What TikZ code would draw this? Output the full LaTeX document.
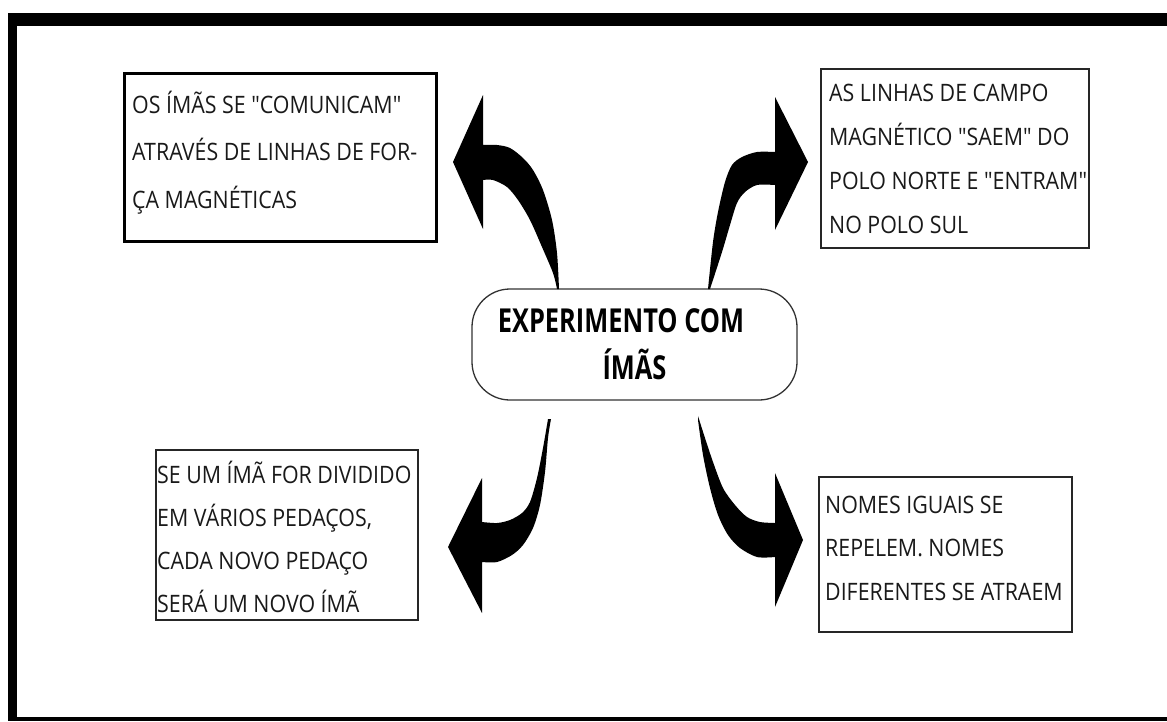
\documentclass[tikz,border=0pt]{standalone}
\usepackage{fontspec}
\newfontfamily\bodyfont{Open Sans}[FakeStretch=0.89]
\newfontfamily\titlefont{Open Sans}[FakeStretch=0.77]
\usetikzlibrary{fit}
\begin{document}
\begin{tikzpicture}[x=1pt,y=-1pt,
  framefill/.style={fill=black},
  infobox/.style={draw=black!85, line width=1.3pt, inner sep=0pt},
  thickbox/.style={draw=black, line width=3pt, inner sep=0pt},
  infotext/.style={anchor=base west, align=left, inner sep=0pt, text=black!90},
  hubnode/.style={draw=black!80, line width=1.3pt, rounded corners=38pt,
    minimum width=325pt, minimum height=111pt, inner sep=0pt, align=center,
    font=\titlefont\bfseries\fontsize{33}{47}\selectfont},
  blockarrow/.style={fill=black}]
\useasboundingbox (0,0) rectangle (1167,721);
\fill[white] (0,0) rectangle (1167,721);
% frame
\fill[framefill] (8,13) rectangle (1167,26);
\fill[framefill] (8,13) rectangle (17,721);
\fill[framefill] (8,717) rectangle (1167,721);

% central node
\node[hubnode] (hub) at (634.5,344.5) {EXPERIMENTO COM\hspace*{27pt}\\ÍMÃS};

% boxes
\node[thickbox, fit={(124,73) (436,241.5)}] (b1) {};
\node[infobox, fit={(821,69) (1089,248)}] (b2) {};
\node[infobox, fit={(156,450) (418,620)}] (b3) {};
\node[infobox, fit={(819,477) (1072,632)}] (b4) {};

% texts (base = baseline of the last line)
\node[infotext, font=\bodyfont\fontsize{24}{47.5}\selectfont] (t1) at (132,208)
  {OS ÍMÃS SE "COMUNICAM"\\ATRAVÉS DE LINHAS DE FOR-\\ÇA MAGNÉTICAS};
\node[infotext, font=\bodyfont\fontsize{24}{44}\selectfont] (t2) at (829,233)
  {AS LINHAS DE CAMPO\\MAGNÉTICO "SAEM" DO\\POLO NORTE E "ENTRAM"\\NO POLO SUL};
\node[infotext, font=\bodyfont\fontsize{24}{43}\selectfont] (t3) at (157,612)
  {SE UM ÍMÃ FOR DIVIDIDO\\EM VÁRIOS PEDAÇOS,\\CADA NOVO PEDAÇO\\SERÁ UM NOVO ÍMÃ};
\node[infotext, font=\bodyfont\fontsize{24}{43.5}\selectfont] (t4) at (825,600)
  {NOMES IGUAIS SE\\REPELEM. NOMES\\DIFERENTES SE ATRAEM};

% curved block arrows
\fill[blockarrow] plot[smooth] coordinates {(557,289) (553,273) (542,247) (530,220) (518,200) (507,187) (493,180) (483,180)}
  -- (483,229) -- (453,162) -- (483,95) -- (483,145)
  -- plot[smooth] coordinates {(483,145) (497,145) (510,148) (523,158) (533,170) (543,190) (552,220) (557,253) (559,289)} -- cycle;

\fill[blockarrow] plot[smooth] coordinates {(710,289) (722,252) (730,225) (737,203) (745,192) (757,185) (775,185)}
  -- (775,230) -- (808,162) -- (775,97) -- (775,152)
  -- plot[smooth] coordinates {(775,152) (757,152) (742,157) (732,165) (725,182) (718,212) (713,242) (708,289)} -- cycle;

\fill[blockarrow] plot[smooth] coordinates {(548,419) (543,448) (537,478) (530,502) (522,513) (510,520) (497,523) (482,522)}
  -- (482,478) -- (448,547) -- (482,613) -- (482,562)
  -- plot[smooth] coordinates {(482,562) (497,562) (512,555) (523,545) (533,528) (540,505) (545,472) (548,438) (551,419)} -- cycle;

\fill[blockarrow] plot[smooth] coordinates {(698,416) (705,438) (713,462) (723,488) (735,505) (747,517) (760,522) (775,523)}
  -- (775,473) -- (803,540) -- (775,607) -- (775,557)
  -- plot[smooth] coordinates {(775,557) (757,557) (740,548) (728,535) (718,515) (710,488) (703,455) (698,420)} -- cycle;
\end{tikzpicture}
\end{document}
